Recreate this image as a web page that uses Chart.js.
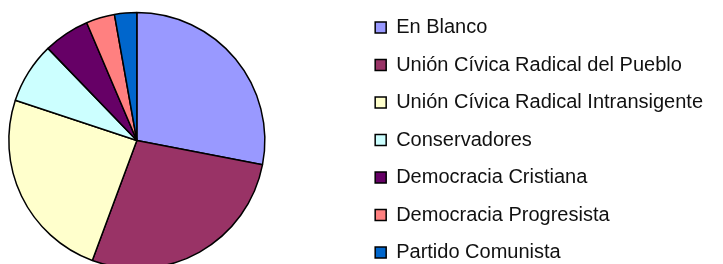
<!DOCTYPE html>
<html>
<head>
<meta charset="utf-8">
<script src="https://cdn.jsdelivr.net/npm/chart.js@4.4.1/dist/chart.umd.min.js"></script>
<style>
  html, body { margin: 0; padding: 0; background: #fff; overflow: hidden; }
  #wrap { width: 723px; height: 264px; overflow: hidden; position: relative; }
  /* canvas is a bit bigger than the window so the pie sits left of its box */
  #chart { position: absolute; left: -84px; top: 0; }
</style>
</head>
<body>
<div id="wrap"><canvas id="chart" width="806" height="281"></canvas></div>
<script>
// party names (legend order)
const partidos = [
  "En Blanco",
  "Unión Cívica Radical del Pueblo",
  "Unión Cívica Radical Intransigente",
  "Conservadores",
  "Democracia Cristiana",
  "Democracia Progresista",
  "Partido Comunista",
];
// share of votes (%)
const votos = [28.0, 27.6, 24.4, 7.7, 5.8, 3.6, 2.8];
// slice colours
const colores = ["#9999ff", "#993366", "#ffffcc", "#ccffff", "#660066", "#ff8080", "#0066cc"];

const ctx = document.getElementById("chart");
new Chart(ctx, {
  type: "pie",
  data: {
    labels: partidos,
    datasets: [{
      data: votos,
      backgroundColor: colores,
      borderColor: "#000000",
      borderWidth: 1.5,
    }],
  },
  options: {
    responsive: false,
    animation: false,
    radius: 128,
    layout: { padding: { left: 0, right: 9, top: 0, bottom: 0 } },
    plugins: {
      tooltip: { enabled: false },
      legend: {
        position: "right",
        align: "start",
        labels: {
          boxWidth: 11,
          boxHeight: 11,
          padding: 17.5,
          color: "#111111",
          font: { family: "'Liberation Sans', Arial, sans-serif", size: 20 },
        },
      },
    },
  },
});
</script>
</body>
</html>
